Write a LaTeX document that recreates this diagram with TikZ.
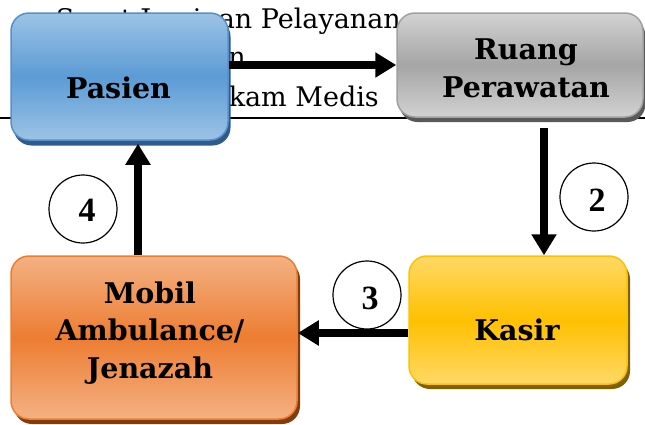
\documentclass[tikz,border=0pt]{standalone}
\usepackage{fontspec}
\usetikzlibrary{arrows.meta,shadows,shapes.geometric}
\setmainfont{DejaVu Serif}
\newfontfamily\numfont{Liberation Serif}
\definecolor{bluemid}{HTML}{5B9BD5}
\definecolor{bluelight}{HTML}{9DC3E6}
\definecolor{blueline}{HTML}{5590CC}
\definecolor{blueshadow}{HTML}{2E5A8C}
\definecolor{graymid}{HTML}{A5A5A5}
\definecolor{graylight}{HTML}{D2D2D2}
\definecolor{grayline}{HTML}{A0A0A0}
\definecolor{grayshadow}{HTML}{595959}
\definecolor{yelmid}{HTML}{FFC000}
\definecolor{yellight}{HTML}{FFD966}
\definecolor{yelline}{HTML}{FFC000}
\definecolor{yelshadow}{HTML}{7F6000}
\definecolor{ormid}{HTML}{ED7D31}
\definecolor{orlight}{HTML}{F4B183}
\definecolor{orline}{HTML}{ED7D31}
\definecolor{orshadow}{HTML}{843C0C}
\tikzset{
  box/.style={rectangle, rounded corners=18pt, line width=1.5pt, inner sep=0pt},
  boxtext/.style={font=\bfseries\fontsize{28.5}{37.5}\selectfont, align=center, inner sep=0pt},
  bgtext/.style={font=\fontsize{27}{39}\selectfont, inner sep=0pt},
  flow/.style={line width=8pt, -{Triangle[width=24pt,length=21pt]}},
  numcirc/.style={circle, draw, line width=1.2pt, minimum size=68pt, inner sep=0pt},
  numtext/.style={font=\numfont\bfseries\fontsize{34}{36}\selectfont, inner sep=0pt}
}
\begin{document}
\begin{tikzpicture}[x=1pt,y=-1pt]
\useasboundingbox (0,0) rectangle (645,424);
% background document text and rule
\node[bgtext, anchor=base east] (t1) at (401,28) {Surat Jaminan Pelayanan};
\node[bgtext, anchor=base east] (t2) at (246,66) {Surat Kematian};
\node[bgtext, anchor=base east] (t3) at (379,106) {Rekam Medis};
\draw[line width=1.5pt] (0,118) -- (645,118);
% boxes
\node[box, minimum width=217pt, minimum height=127pt, draw=blueline,
  top color=bluelight, bottom color=bluelight, middle color=bluemid,
  general shadow={fill=blueshadow, shadow xshift=2.5pt, shadow yshift=-5.5pt}] (pasien) at (119.5,76.5) {};
\node[box, minimum width=246pt, minimum height=104pt, draw=grayline,
  top color=graylight, bottom color=graylight, middle color=graymid,
  general shadow={fill=grayshadow, shadow xshift=2.5pt, shadow yshift=-5pt}] (ruang) at (520,65) {};
\node[box, minimum width=218pt, minimum height=128pt, draw=yelline,
  top color=yellight, bottom color=yellight, middle color=yelmid,
  general shadow={fill=yelshadow, shadow xshift=3pt, shadow yshift=-5pt}] (kasir) at (518,320) {};
\node[box, minimum width=286pt, minimum height=163pt, draw=orline,
  top color=orlight, bottom color=orlight, middle color=ormid,
  general shadow={fill=orshadow, shadow xshift=3pt, shadow yshift=-5pt}] (mobil) at (154,337.5) {};
% box texts
\node[boxtext] (lpasien) at (118.5,88) {Pasien};
\node[boxtext] (lruang) at (526,68.5) {Ruang\\Perawatan};
\node[boxtext] (lkasir) at (517,330) {Kasir};
\node[boxtext] (lmobil) at (150,333) {Mobil\\Ambulance/\\Jenazah};
% connectors
\draw[flow] (pasien.east |- ruang.west) -- (ruang.west);
\draw[flow] ([xshift=24pt,yshift=-10pt]ruang.south) -- ([xshift=26pt]kasir.north);
\coordinate (k3) at ([yshift=-13pt]kasir.west);
\draw[flow] (k3) -- (mobil.east |- k3);
\coordinate (m4) at ([xshift=-16pt]mobil.north);
\draw[flow] (m4) -- ([yshift=-3pt]m4 |- pasien.south);
% number circles
\node[numcirc] (c4) at (83,209) {};
\node[numtext] (n4) at (87,210) {4};
\node[numcirc] (c2) at (594,197) {};
\node[numtext] (n2) at (597,200) {2};
\node[numcirc] (c3) at (367,295) {};
\node[numtext] (n3) at (370,298) {3};
\end{tikzpicture}
\end{document}
